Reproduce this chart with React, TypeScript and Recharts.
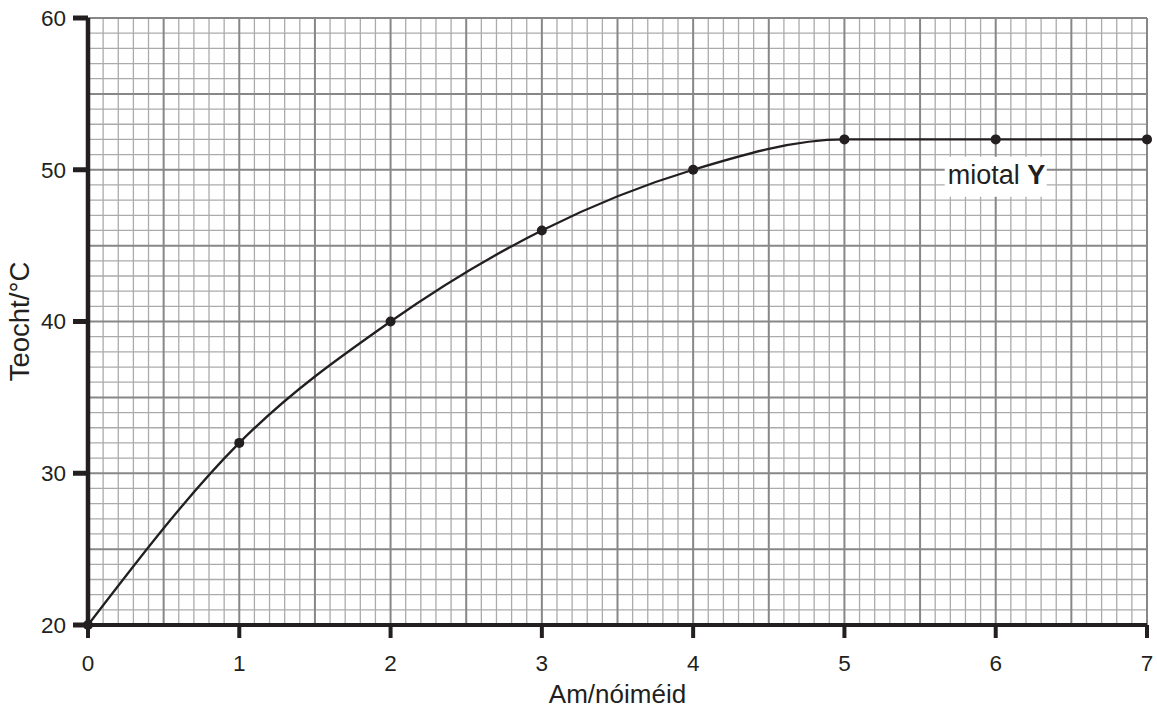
import { LineChart, Line, XAxis, YAxis, ReferenceLine, ReferenceDot } from "recharts";

// Am (nóiméid) vs teocht (°C) — miotal Y
const minutes = [0, 1, 2, 3, 4, 5, 6, 7];
const temps = [20, 32, 40, 46, 50, 52, 52, 52];
const xTicks = [0, 1, 2, 3, 4, 5, 6, 7];
const yTicks = [20, 30, 40, 50, 60];

const data = minutes.map((m, i) => ({ am: m, teocht: temps[i] }));

// graph paper: every 0.1 min / 1 °C, darker every 0.5 min / 5 °C
const gridX = Array.from({ length: 71 }, (_, i) => i);
const gridY = Array.from({ length: 41 }, (_, i) => i);

const INK = "#231f20";
const FONT = "'Liberation Sans', Arial, sans-serif";
const MINOR = { stroke: "#ababab", strokeWidth: 1.3 };
const MAJOR = { stroke: "#878787", strokeWidth: 2 };

const tagLabel = (p: any) => (
  <g>
    <rect x={p.cx - 51} y={p.cy - 13} width={102} height={40} fill="#fff" />
    <text x={p.cx - 48} y={p.cy + 14.5} fontSize={27} fill={INK} fontFamily={FONT}>
      miotal <tspan fontWeight="bold">Y</tspan>
    </text>
  </g>
);

export default function App() {
  return (
    <div style={{ position: "absolute", left: 0, top: 0 }}>
      <LineChart
        width={1157}
        height={711}
        data={data}
        margin={{ top: 18, right: 10, bottom: 0, left: 0 }}
        style={{ fontFamily: FONT }}
      >
        <XAxis
          dataKey="am"
          type="number"
          domain={[0, 7]}
          ticks={xTicks}
          height={86}
          tickSize={13}
          tickMargin={17}
          axisLine={{ stroke: INK, strokeWidth: 4 }}
          tickLine={{ stroke: INK, strokeWidth: 4 }}
          tick={{ fill: INK, fontSize: 22.5 }}
          label={{ value: "Am/nóiméid", position: "insideBottom", offset: 8, fill: INK, fontSize: 26 }}
        />
        <YAxis
          type="number"
          domain={[20, 60]}
          ticks={yTicks}
          width={88}
          tickSize={15}
          tickMargin={7}
          axisLine={{ stroke: INK, strokeWidth: 4.5 }}
          tickLine={{ stroke: INK, strokeWidth: 5 }}
          tick={{ fill: INK, fontSize: 22.5 }}
          label={{
            value: "Teocht/°C",
            angle: -90,
            position: "insideLeft",
            offset: 19,
            fill: INK,
            fontSize: 27.5,
            style: { textAnchor: "middle" },
          }}
        />
        {gridX.filter((i) => i % 5 !== 0).map((i) => (
          <ReferenceLine key={"vx" + i} x={i / 10} {...MINOR} />
        ))}
        {gridY.filter((i) => i % 5 !== 0).map((i) => (
          <ReferenceLine key={"hy" + i} y={20 + i} {...MINOR} />
        ))}
        {gridX.filter((i) => i % 5 === 0).map((i) => (
          <ReferenceLine key={"VX" + i} x={i / 10} {...MAJOR} />
        ))}
        {gridY.filter((i) => i % 5 === 0).map((i) => (
          <ReferenceLine key={"HY" + i} y={20 + i} {...MAJOR} />
        ))}
        <Line
          dataKey="teocht"
          type="monotone"
          stroke={INK}
          strokeWidth={2.3}
          dot={{ r: 5, fill: INK, stroke: INK, strokeWidth: 0 }}
          isAnimationActive={false}
        />
        <ReferenceDot x={6} y={50} r={0} shape={tagLabel} />
      </LineChart>
    </div>
  );
}
